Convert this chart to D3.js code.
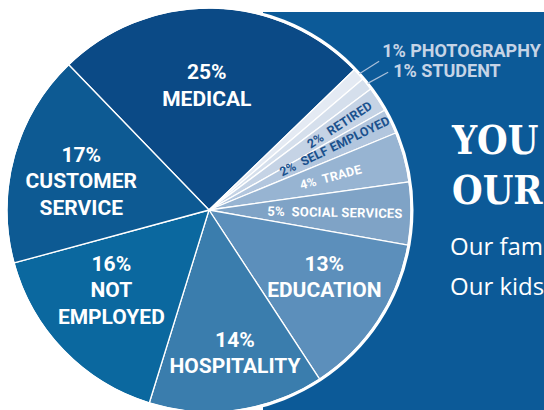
<!DOCTYPE html>
<html>
<head>
<meta charset="utf-8">
<script src="https://cdnjs.cloudflare.com/ajax/libs/d3/7.8.5/d3.min.js"></script>
<style>
  html, body { margin: 0; padding: 0; background: #fff; overflow: hidden; }
  .lbl { font-family: Roboto, "Liberation Sans", sans-serif; font-weight: bold; }
</style>
</head>
<body>
<div id="chart"></div>
<script>
// occupation shares, clockwise from the top
const categories = ["MEDICAL", "PHOTOGRAPHY", "STUDENT", "RETIRED", "SELF EMPLOYED", "TRADE",
                    "SOCIAL SERVICES", "EDUCATION", "HOSPITALITY", "NOT EMPLOYED", "CUSTOMER SERVICE"];
const values = [25, 1, 1, 2, 2, 4, 5, 13, 14, 16, 17];
const labelLines = [["MEDICAL"], ["PHOTOGRAPHY"], ["STUDENT"], ["RETIRED"], ["SELF EMPLOYED"], ["TRADE"],
                    ["SOCIAL SERVICES"], ["EDUCATION"], ["HOSPITALITY"], ["NOT", "EMPLOYED"], ["CUSTOMER", "SERVICE"]];
const headline = ["YOU", "OUR"];
const tagline = ["Our fam", "Our kids"];

const width = 544;
const height = 410;
const cx = 209, cy = 210, radius = 202;

const colors = ["#0b4a86", "#e4eaf3", "#d5dfec", "#c5d3e5", "#b2c6de", "#97b4d2",
                "#7fa3c6", "#5c8fbb", "#3a7dad", "#0b689f", "#0d5a93"];

// how each label is drawn: stacked inside, radial inside, or outside with a leader
const labelKind = ["big", "out", "out", "radial", "radial", "radial", "radial", "big", "big", "big", "big"];
// label placement tweaks: radius and angle shift (degrees)
const labelPos = {
    "MEDICAL": { r: 125, da: -2 },
    "CUSTOMER SERVICE": { r: 131, da: -2.6 },
    "NOT EMPLOYED": { r: 126, da: 4.8 },
    "HOSPITALITY": { r: 145, da: -2.3 },
    "EDUCATION": { r: 133, da: -3.5 },
    "RETIRED": { r: 156, da: 0 },
    "SELF EMPLOYED": { r: 141, da: -1 },
    "TRADE": { r: 126, da: 0 },
    "SOCIAL SERVICES": { r: 126, da: 0 }
};

const svg = d3.select("#chart")
    .append("svg")
    .attr("width", width)
    .attr("height", height);

// blue panel behind the pie
svg.append("rect")
    .attr("x", 263)
    .attr("y", 12)
    .attr("width", width - 263)
    .attr("height", height - 12)
    .attr("fill", "#0c5a98");

const pie = d3.pie()
    .sort(null)
    .value(d => d)
    .startAngle(-44 * Math.PI / 180)
    .endAngle(316 * Math.PI / 180);

const arcs = pie(values);
const arc = d3.arc().innerRadius(0).outerRadius(radius);

const g = svg.append("g").attr("transform", `translate(${cx},${cy})`);

g.selectAll("path.slice")
    .data(arcs)
    .enter()
    .append("path")
    .attr("class", "slice")
    .attr("d", arc)
    .attr("fill", (d, i) => colors[i])
    .attr("stroke", "#fff")
    .attr("stroke-width", 1.3)
    .attr("stroke-linejoin", "round");

g.append("circle")
    .attr("r", radius + 1)
    .attr("fill", "none")
    .attr("stroke", "#fff")
    .attr("stroke-width", 3);

function polar(r, a) {
    return [r * Math.sin(a), -r * Math.cos(a)];
}

arcs.forEach((d, i) => {
    const name = categories[i];
    const mid = (d.startAngle + d.endAngle) / 2;
    if (labelKind[i] === "big") {
        // stacked labels inside the big slices
        const p = labelPos[name];
        const [x, y] = polar(p.r, mid + p.da * Math.PI / 180);
        const lines = [d.data + "%"].concat(labelLines[i]);
        const lh = 26.5;
        const top = y - (lines.length - 1) * lh / 2;
        const t = g.append("text")
            .attr("class", "lbl")
            .attr("text-anchor", "middle")
            .attr("fill", "#fff")
            .style("font-size", "21px");
        lines.forEach((s, k) => {
            t.append("tspan")
                .attr("x", x)
                .attr("y", top + k * lh + 7.5)
                .text(s);
        });
    } else if (labelKind[i] === "radial") {
        // small slices: text runs along the slice
        const p = labelPos[name];
        const [x, y] = polar(p.r, mid + p.da * Math.PI / 180);
        const deg = mid * 180 / Math.PI - 90;
        const dark = d.data <= 2;
        g.append("text")
            .attr("class", "lbl")
            .attr("text-anchor", "middle")
            .attr("transform", `translate(${x},${y}) rotate(${deg})`)
            .attr("dy", "0.36em")
            .attr("fill", dark ? "#1b518d" : "#fff")
            .style("font-size", name === "SOCIAL SERVICES" ? "13px" : "12.5px")
            .style("letter-spacing", "0.2px")
            .style("white-space", "pre")
            .text(d.data + "%  " + name);
    } else {
        // tiny slices get a leader line and text outside
        const [x1, y1] = polar(radius + 1, mid);
        const [x2, y2] = polar(radius + 24, mid + 0.018);
        g.append("line")
            .attr("x1", x1).attr("y1", y1)
            .attr("x2", x2).attr("y2", y2)
            .attr("stroke", "#a9bfda")
            .attr("stroke-width", 1.2);
        const off = name === "PHOTOGRAPHY" ? [3, -4] : [5, 5];
        g.append("text")
            .attr("class", "lbl")
            .attr("x", x2 + off[0])
            .attr("y", y2 + off[1])
            .attr("fill", "#c6d4e6")
            .style("font-size", "18px")
            .text(d.data + "% " + name);
    }
});

// headline on the right, squeezed a little to look like a narrow slab face
svg.selectAll("text.head")
    .data(headline)
    .enter()
    .append("text")
    .attr("class", "head")
    .attr("transform", (d, i) => `translate(452,${154 + i * 50}) scale(0.88,1)`)
    .attr("fill", "#fff")
    .style("font-family", "'DejaVu Serif', serif")
    .style("font-weight", "bold")
    .style("font-size", "40px")
    .text(d => d);

svg.selectAll("text.tag")
    .data(tagline)
    .enter()
    .append("text")
    .attr("class", "tag")
    .attr("x", 450)
    .attr("y", (d, i) => 255 + i * 40)
    .attr("fill", "#fff")
    .style("font-family", "'Open Sans', 'Liberation Sans', sans-serif")
    .style("font-size", "24px")
    .text(d => d);
</script>
</body>
</html>
